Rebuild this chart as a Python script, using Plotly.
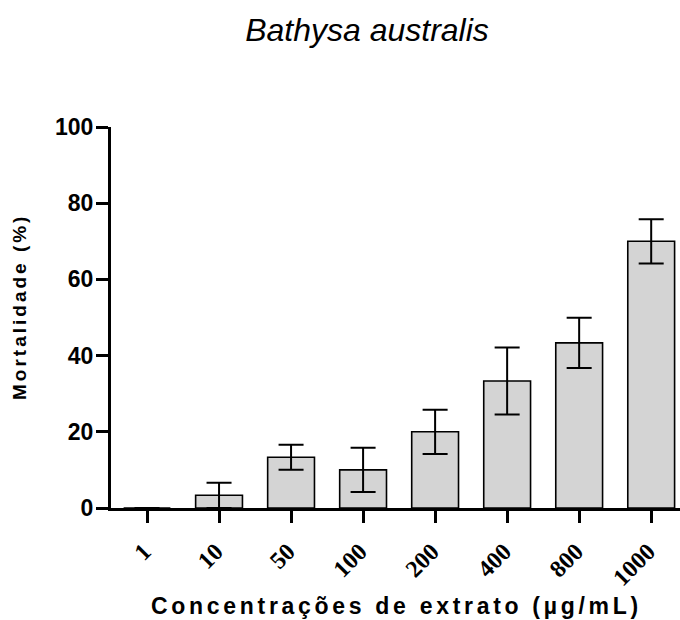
import plotly.graph_objects as go

categories = ["1", "10", "50", "100", "200", "400", "800", "1000"]
mortality = [0, 3.33, 13.33, 10, 20, 33.33, 43.33, 70]
error = [0, 3.33, 3.3, 5.8, 5.8, 8.8, 6.6, 5.8]
y_ticks = [0, 20, 40, 60, 80, 100]

title_text = "Bathysa australis"
x_title = "Concentrações de extrato (µg/mL)"
y_title = "Mortalidade (%)"

SANS = "Liberation Sans, Arial"
SERIF = "Liberation Serif, Times New Roman"

fig = go.Figure()
fig.add_trace(go.Bar(
    x=categories, y=mortality,
    width=0.65,
    marker=dict(color="#d4d4d4", line=dict(color="black", width=1.6)),
    error_y=dict(type="data", array=error, visible=True, color="black",
                 thickness=2, width=12.5),
))

fig.update_layout(
    width=680, height=620,
    margin=dict(l=111, r=0, t=127, b=112, autoexpand=False),
    plot_bgcolor="white", paper_bgcolor="white",
    showlegend=False,
    title=dict(text="<i>" + title_text + "</i>",
               font=dict(family=SANS, size=32, color="black"),
               xref="container", x=367/680, xanchor="center",
               yref="container", y=1 - 30/620, yanchor="middle"),
    annotations=[
        dict(text='<span style="letter-spacing:3.7px">' + x_title + '</span>',
             xref="paper", yref="paper", x=(396 - 111)/569, y=-98/381,
             xanchor="center", yanchor="middle", showarrow=False,
             font=dict(family=SANS, size=23, color="black", weight="bold")),
        dict(text='<span style="letter-spacing:3px">' + y_title + '</span>',
             xref="paper", yref="paper", x=(19 - 111)/569, y=(508 - 307)/381,
             xanchor="center", yanchor="middle", showarrow=False, textangle=-90,
             font=dict(family=SANS, size=19, color="black", weight="bold")),
    ],
)
fig.update_xaxes(
    type="category", range=[-0.5, 7.4], automargin=False,
    showline=True, linecolor="black", linewidth=3,
    ticks="outside", ticklen=12, tickwidth=3, tickcolor="black",
    tickangle=-45, ticklabelstandoff=5, ticklabelshift=-3,
    tickfont=dict(family=SERIF, size=24, color="black", weight="bold"),
    showgrid=False, zeroline=False,
)
fig.update_yaxes(
    range=[0, 100], tickvals=y_ticks, automargin=False,
    showline=True, linecolor="black", linewidth=3,
    ticks="outside", ticklen=12, tickwidth=3, tickcolor="black",
    ticklabelstandoff=-2,
    tickfont=dict(family=SANS, size=23, color="black", weight="bold"),
    showgrid=False, zeroline=False,
)

fig.write_html("out.html", config={"displayModeBar": False},
               post_script="document.body.style.margin='0';document.body.style.overflow='hidden';")
